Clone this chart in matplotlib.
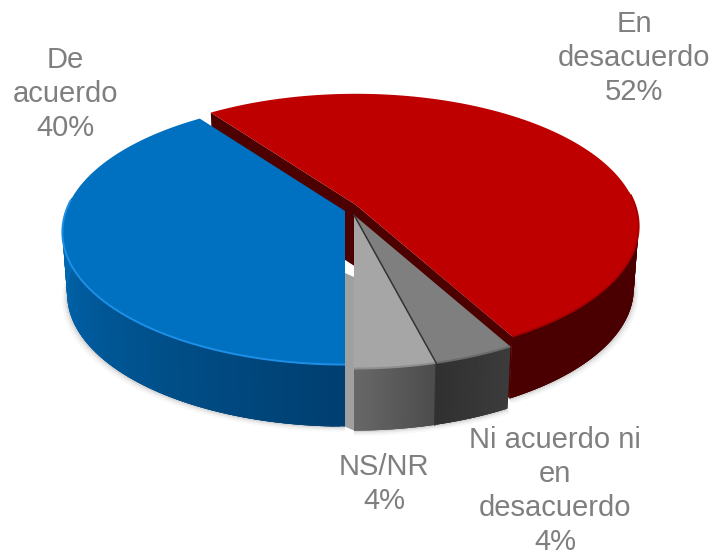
import numpy as np
import matplotlib
matplotlib.use("Agg")
import matplotlib.pyplot as plt
from matplotlib.colors import to_rgb

# Data, clockwise from the back left edge
categories = ["En\ndesacuerdo", "Ni acuerdo ni\nen\ndesacuerdo", "NS/NR", "De\nacuerdo"]
values = [52, 4, 4, 40]

top_colors = ["#BE0000", "#7F7F7F", "#A6A6A6", "#0070C0"]
face_colors = ["#4D0000", "#3A3A3A", "#A0A0A0", "#005A9C"]
rim_colors = ["#A80000", "#6A6A6A", "#8E8E8E", "#1E8FE6"]
# wall shade at the first and last angle of each slice
wall_start = ["#4A0000", "#3C3C3C", "#4C4C4C", "#003F70"]
wall_end = ["#4A0000", "#303030", "#686868", "#006CB8"]

# Slice centres in pixels (the pie is exploded a little)
centers = [(356, 205), (354, 215), (354, 215), (345, 211)]
label_pos = [(634, 58), (555, 491), (384, 484), (65, 94)]

START_ANGLE = 126
RX = 279
RY = 129
PERSP = 0.16
DEPTH = 62
BOTTOM_SHRINK = 0.983


def project(center, theta, bottom=False):
    """Project circle angles (radians) on the tilted pie, in pixels."""
    scale = 1 + PERSP * np.sin(theta)
    dx = RX * np.cos(theta) / scale
    dy = RY * np.sin(theta) / scale
    if bottom:
        return center[0] + BOTTOM_SHRINK * dx, center[1] - dy + DEPTH
    return center[0] + dx, center[1] - dy


fig = plt.figure(figsize=(7.12, 5.53), dpi=100)
ax = fig.add_axes([0, 0, 1, 1])
ax.set_xlim(0, 712)
ax.set_ylim(553, 0)
ax.axis("off")

# Slice angles from the values
fractions = np.array(values) / sum(values)
ends = START_ANGLE - 360 * np.cumsum(fractions)
starts = np.concatenate([[START_ANGLE], ends[:-1]])
arcs = [np.radians(np.linspace(s, e, 160)) for s, e in zip(starts, ends)]

# Soft shadow under the front of the pie
for grow, alpha in [(5, 0.05), (3, 0.08), (1.5, 0.12)]:
    for i, arc in enumerate(arcs):
        front = arc[np.sin(arc) < 0.1]
        x, y = project(centers[i], front, bottom=True)
        x = centers[i][0] + (x - centers[i][0]) * (1 + grow / 280)
        ax.fill(
            np.r_[x, centers[i][0]], np.r_[y + grow, centers[i][1] + DEPTH],
            color="#555555", alpha=alpha, lw=0, zorder=1,
        )

# Red cut faces show through the gaps between slices
for ang in [arcs[0][0], arcs[0][-1]]:
    ex, ey = project(centers[0], ang)
    bx, by = project(centers[0], ang, bottom=True)
    cx, cy = centers[0]
    ax.fill([cx, ex, bx, cx], [cy, ey, by, cy + DEPTH], color=face_colors[0], lw=0, zorder=2)

# Grey strip beside the near edge of the blue slice
bx0, by0 = project(centers[3], arcs[3][0], bottom=True)
gx0, gy0 = project(centers[2], arcs[2][-1], bottom=True)
ax.fill(
    [centers[3][0], centers[2][0], gx0, bx0],
    [centers[3][1] + DEPTH, centers[2][1] + DEPTH, gy0, by0],
    color=face_colors[2], lw=0, zorder=3,
)

# Outer walls as overlapping strips, so each can carry its own shade
for i, arc in enumerate(arcs):
    visible = arc[np.sin(arc) < 0.12]
    c0, c1 = np.array(to_rgb(wall_start[i])), np.array(to_rgb(wall_end[i]))
    pos = np.abs(visible - visible[0]) / abs(visible[-1] - visible[0])
    for j in range(len(visible) - 1):
        pair = visible[j:j + 4]
        tx, ty = project(centers[i], pair)
        bx, by = project(centers[i], pair, bottom=True)
        col = c0 + (c1 - c0) * pos[j]
        ax.fill(np.r_[tx, bx[::-1]], np.r_[ty, by[::-1]], color=col, lw=0, zorder=4 + i * 0.1)

# Top surfaces
for i, arc in enumerate(arcs):
    x, y = project(centers[i], arc)
    ax.fill(np.r_[centers[i][0], x], np.r_[centers[i][1], y], color=top_colors[i], lw=0, zorder=6)
    front = arc[np.sin(arc) < 0.1]
    fx, fy = project(centers[i], front)
    ax.plot(fx, fy, color=rim_colors[i], lw=1.4, zorder=7, solid_capstyle="butt")

# Dark seam between the two grey slices
ang = np.radians(ends[1])
tx, ty = project(centers[1], ang)
bx, by = project(centers[1], ang, bottom=True)
ax.plot([centers[1][0], tx, bx], [centers[1][1], ty, by], color="#333333", lw=1.1, zorder=8)

for cat, val, pos in zip(categories, values, label_pos):
    ax.text(
        pos[0], pos[1], f"{cat}\n{val}%", ha="center", va="center", multialignment="center",
        fontsize=21, family="Liberation Sans", color="#7F7F7F", linespacing=1.26, zorder=10,
    )

fig.savefig("out.png", dpi=100)
plt.close(fig)
